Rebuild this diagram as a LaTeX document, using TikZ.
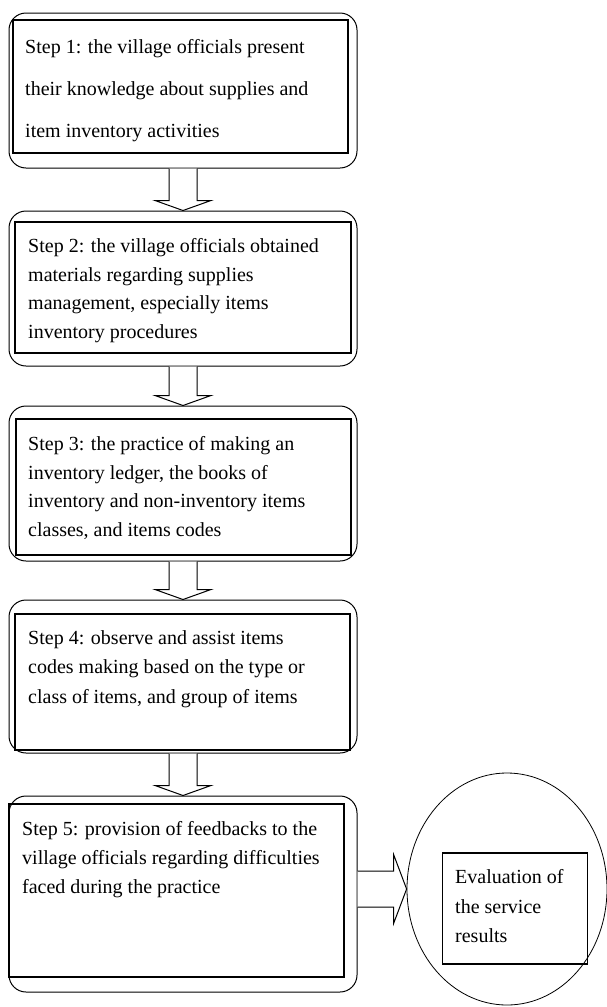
\documentclass[tikz,border=0pt]{standalone}
\usepackage{fontspec}
\setmainfont{Liberation Serif}
\usetikzlibrary{shapes.geometric,calc}
\begin{document}
\begin{tikzpicture}[x=1pt,y=-1pt,
  outerbox/.style={draw,line width=1pt,rounded corners=17pt,minimum width=348pt,inner sep=0pt},
  innerbox/.style={draw,line width=1.2pt,inner sep=0pt},
  steptext/.style={anchor=north west,inner sep=0pt,align=left,font=\fontsize{20}{#1}\selectfont},
  blockarrow/.style={draw,line width=1pt,fill=white,line join=miter}
]
\useasboundingbox (0,0) rectangle (606,1007);
% outer rounded boxes
\node[outerbox,minimum height=155pt] (o1) at (183,90.5) {};
\node[outerbox,minimum height=155pt] (o2) at (183,288.5) {};
\node[outerbox,minimum height=155pt] (o3) at (183,483.5) {};
\node[outerbox,minimum height=153pt] (o4) at (183,676.5) {};
\node[outerbox,minimum height=196pt] (o5) at (183,894) {};
% inner rectangles
\node[innerbox,minimum width=335pt,minimum height=133pt] (i1) at (180.5,86.5) {};
\node[innerbox,minimum width=336pt,minimum height=131pt] (i2) at (183,287.5) {};
\node[innerbox,minimum width=335pt,minimum height=136pt] (i3) at (183.5,487) {};
\node[innerbox,minimum width=335pt,minimum height=136pt] (i4) at (182.5,682) {};
\node[innerbox,minimum width=335pt,minimum height=173pt] (i5) at (176.5,890.5) {};
% texts
\node[steptext=42] (t1) at (25,39.3) {Step 1: the village officials present\\their knowledge about supplies and\\item inventory activities};
\node[steptext=28.6] (t2) at (28,238.3) {Step 2: the village officials obtained\\materials regarding supplies\\management, especially items\\inventory procedures};
\node[steptext=28.6] (t3) at (28,436.3) {Step 3: the practice of making an\\inventory ledger, the books of\\inventory and non-inventory items\\classes, and items codes};
\node[steptext=29.5] (t4) at (28,630.3) {Step 4: observe and assist items\\codes making based on the type or\\class of items, and group of items};
\node[steptext=29] (t5) at (22,821.3) {Step 5: provision of feedbacks to the\\village officials regarding difficulties\\faced during the practice};
% evaluation
\node[draw,ellipse,line width=0.8pt,minimum width=200pt,minimum height=232pt,inner sep=0pt] (e) at (507,889) {};
\node[innerbox,minimum width=145pt,minimum height=111pt] (er) at (515,908.5) {};
\node[steptext=29.5] (te) at (455,869.3) {Evaluation of\\the service\\results};
% block arrows down
\foreach \a/\b in {o1/o2,o2/o3,o3/o4,o4/o5}{
  \draw[blockarrow] ($(\a.south)+(-14,0)$) -- ($(\b.north)+(-14,-10)$) -- ($(\b.north)+(-28,-10)$)
    -- (\b.north) -- ($(\b.north)+(28,-10)$) -- ($(\b.north)+(14,-10)$) -- ($(\a.south)+(14,0)$);
}
% block arrow right
\coordinate (a5) at (o5.east |- e.west);
\draw[blockarrow] ($(a5)+(0,-18)$) -- ($(e.west)+(-13,-18)$) -- ($(e.west)+(-13,-34.5)$)
  -- (e.west) -- ($(e.west)+(-13,34.5)$) -- ($(e.west)+(-13,18)$) -- ($(a5)+(0,18)$);
\end{tikzpicture}
\end{document}
